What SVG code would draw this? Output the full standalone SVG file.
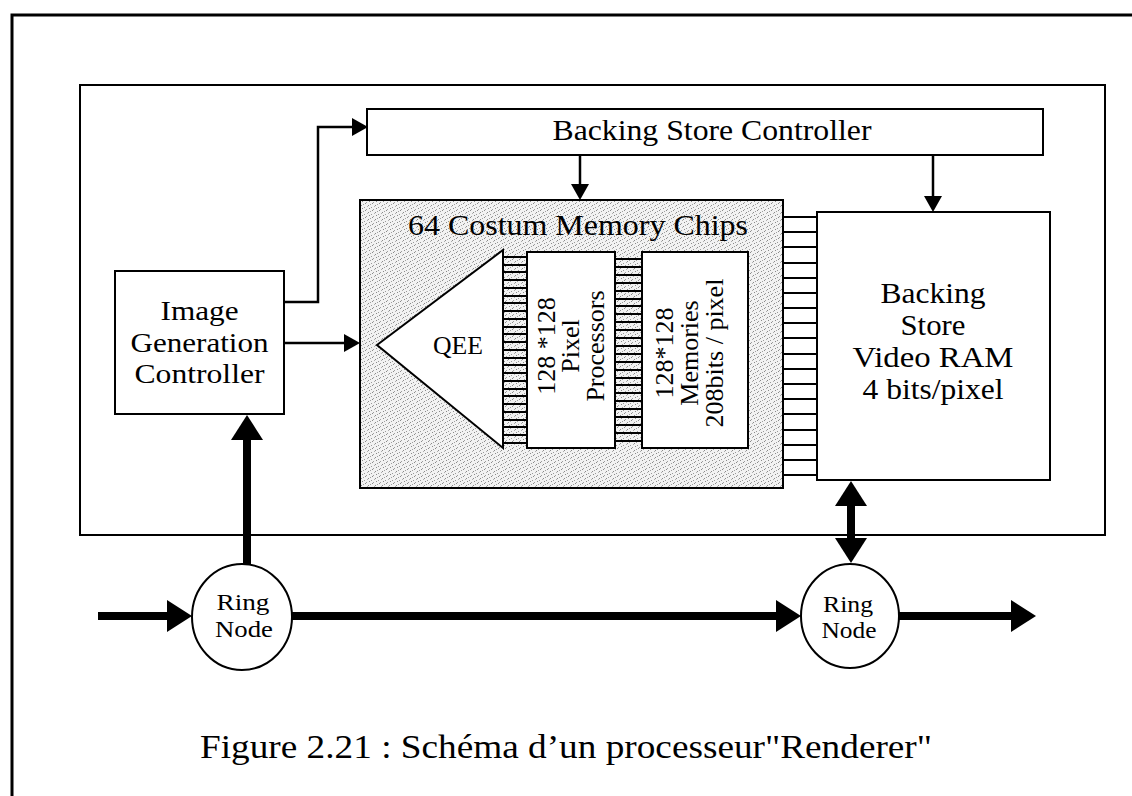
<svg xmlns="http://www.w3.org/2000/svg" width="1132" height="796" viewBox="0 0 1132 796">
  <style>
    .box { fill: #fff; stroke: #000; stroke-width: 2; }
    .frame { fill: none; stroke: #000; stroke-width: 2; }
    .lbl { font-family: "Liberation Serif", "Times New Roman", serif; fill: #000; text-anchor: middle; }
    .comb { fill: none; stroke: #000; stroke-width: 2; }
    .thin { fill: none; stroke: #000; stroke-width: 2.5; }
    .thick { fill: none; stroke: #000; stroke-width: 8; }
  </style>
  <defs>
    <!-- light stipple used for the custom-chip block -->
    <pattern id="stipple" width="7" height="7" patternUnits="userSpaceOnUse">
      <rect width="7" height="7" fill="#f2f2f2"/>
      <rect x="1" y="0" width="1" height="1" fill="#8a8a8a"/>
      <rect x="4" y="2" width="1" height="1" fill="#8a8a8a"/>
      <rect x="0" y="4" width="1" height="1" fill="#9a9a9a"/>
      <rect x="5" y="5" width="1" height="1" fill="#8a8a8a"/>
      <rect x="2" y="6" width="1" height="1" fill="#a0a0a0"/>
      <rect x="6" y="1" width="1" height="1" fill="#a0a0a0"/>
      <rect x="3" y="3" width="1" height="1" fill="#b0b0b0"/>
    </pattern>
    <marker id="headThin" viewBox="0 0 16 18" refX="0" refY="9" markerWidth="16" markerHeight="18" markerUnits="userSpaceOnUse" orient="auto-start-reverse">
      <path d="M0,0 L16,9 L0,18 z" fill="#000"/>
    </marker>
    <marker id="headThick" viewBox="0 0 25 32" refX="0" refY="16" markerWidth="25" markerHeight="32" markerUnits="userSpaceOnUse" orient="auto-start-reverse">
      <path d="M0,0 L25,16 L0,32 z" fill="#000"/>
    </marker>
  </defs>

  <rect width="1132" height="796" fill="#fff"/>

  <!-- page frame and renderer board outline -->
  <path d="M12,796 V15 H1132" fill="none" stroke="#000" stroke-width="3"/>
  <rect class="frame" x="80" y="85" width="1025" height="450"/>

  <g id="backing-store-controller">
    <rect class="box" x="367" y="109" width="676" height="46"/>
    <text class="lbl" x="712" y="140" font-size="29" textLength="319" lengthAdjust="spacingAndGlyphs">Backing Store Controller</text>
  </g>

  <g id="image-generation-controller">
    <rect class="box" x="115" y="271" width="169" height="143"/>
    <text class="lbl" x="199.5" y="320" font-size="28" textLength="78" lengthAdjust="spacingAndGlyphs">Image</text>
    <text class="lbl" x="199.5" y="351.5" font-size="28" textLength="138" lengthAdjust="spacingAndGlyphs">Generation</text>
    <text class="lbl" x="199.5" y="383" font-size="28" textLength="130" lengthAdjust="spacingAndGlyphs">Controller</text>
  </g>

  <g id="memory-chips">
    <rect x="360" y="200" width="423" height="288" fill="url(#stipple)" stroke="#000" stroke-width="2"/>
    <text class="lbl" x="578" y="235" font-size="30" textLength="340" lengthAdjust="spacingAndGlyphs">64 Costum Memory Chips</text>
  </g>

  <g id="qee">
    <polygon class="box" points="377,345 503,250 503,448"/>
    <text class="lbl" x="458" y="354" font-size="26" textLength="50" lengthAdjust="spacingAndGlyphs">QEE</text>
  </g>

  <g id="pixel-processors">
    <rect class="box" x="527" y="252" width="88" height="196"/>
    <g transform="translate(571,346) rotate(-90)">
      <text class="lbl" x="0" y="-16" font-size="26">128 *128</text>
      <text class="lbl" x="0" y="8" font-size="26">Pixel</text>
      <text class="lbl" x="0" y="33" font-size="26">Processors</text>
    </g>
  </g>

  <g id="pixel-memories">
    <rect class="box" x="642" y="252" width="106" height="196"/>
    <g transform="translate(695,353) rotate(-90)">
      <text class="lbl" x="0" y="-22" font-size="26">128*128</text>
      <text class="lbl" x="0" y="3" font-size="26">Memories</text>
      <text class="lbl" x="0" y="28" font-size="26">208bits / pixel</text>
    </g>
  </g>

  <g id="backing-store">
    <rect class="box" x="817" y="212" width="233" height="268"/>
    <text class="lbl" x="933" y="303" font-size="29" textLength="105" lengthAdjust="spacingAndGlyphs">Backing</text>
    <text class="lbl" x="933" y="335" font-size="29" textLength="65" lengthAdjust="spacingAndGlyphs">Store</text>
    <text class="lbl" x="933" y="367" font-size="29" textLength="161" lengthAdjust="spacingAndGlyphs">Video RAM</text>
    <text class="lbl" x="933" y="399" font-size="29" textLength="141" lengthAdjust="spacingAndGlyphs">4 bits/pixel</text>
  </g>

  <g id="ring-node-1">
    <ellipse class="box" cx="242" cy="617" rx="50" ry="53"/>
    <text class="lbl" x="243" y="610" font-size="24" textLength="53" lengthAdjust="spacingAndGlyphs">Ring</text>
    <text class="lbl" x="244" y="637" font-size="24" textLength="58" lengthAdjust="spacingAndGlyphs">Node</text>
  </g>

  <g id="ring-node-2">
    <ellipse class="box" cx="850" cy="616" rx="49" ry="52"/>
    <text class="lbl" x="848" y="612" font-size="24" textLength="50" lengthAdjust="spacingAndGlyphs">Ring</text>
    <text class="lbl" x="849" y="638" font-size="24" textLength="55" lengthAdjust="spacingAndGlyphs">Node</text>
  </g>

  <g id="connectors">
    <!-- parallel buses between the chip stages -->
    <path class="comb" d="M503,257H527M503,265H527M503,272H527M503,280H527M503,288H527M503,296H527M503,303H527M503,311H527M503,319H527M503,327H527M503,334H527M503,342H527M503,350H527M503,358H527M503,365H527M503,373H527M503,381H527M503,389H527M503,396H527M503,404H527M503,412H527M503,420H527M503,427H527M503,435H527M503,443H527"/>
    <path class="comb" d="M615,259H642M615,267H642M615,275H642M615,283H642M615,291H642M615,299H642M615,306H642M615,314H642M615,322H642M615,330H642M615,338H642M615,346H642M615,354H642M615,362H642M615,370H642M615,378H642M615,385H642M615,393H642M615,401H642M615,409H642M615,417H642M615,425H642M615,433H642M615,441H642"/>
    <path class="comb" d="M783,217H817M783,232H817M783,247H817M783,263H817M783,278H817M783,293H817M783,308H817M783,323H817M783,338H817M783,354H817M783,369H817M783,384H817M783,399H817M783,414H817M783,430H817M783,445H817M783,460H817M783,475H817"/>

    <!-- control paths -->
    <path class="thin" d="M284,302 H318 V127 H352" marker-end="url(#headThin)"/>
    <path class="thin" d="M284,343 H344" marker-end="url(#headThin)"/>
    <path class="thin" d="M580,155 V184" marker-end="url(#headThin)"/>
    <path class="thin" d="M933,155 V196" marker-end="url(#headThin)"/>

    <!-- ring bus -->
    <path class="thick" d="M98,616 H167" marker-end="url(#headThick)"/>
    <path class="thick" d="M292,616 H776" marker-end="url(#headThick)"/>
    <path class="thick" d="M898,616 H1011" marker-end="url(#headThick)"/>
    <path class="thick" d="M247,564 V440" marker-end="url(#headThick)"/>
    <path class="thick" d="M851,506 V538" marker-start="url(#headThick)" marker-end="url(#headThick)"/>
  </g>

  <text class="lbl" x="566" y="758" font-size="33" textLength="732" lengthAdjust="spacingAndGlyphs">Figure 2.21 : Schéma d’un processeur"Renderer"</text>
</svg>
